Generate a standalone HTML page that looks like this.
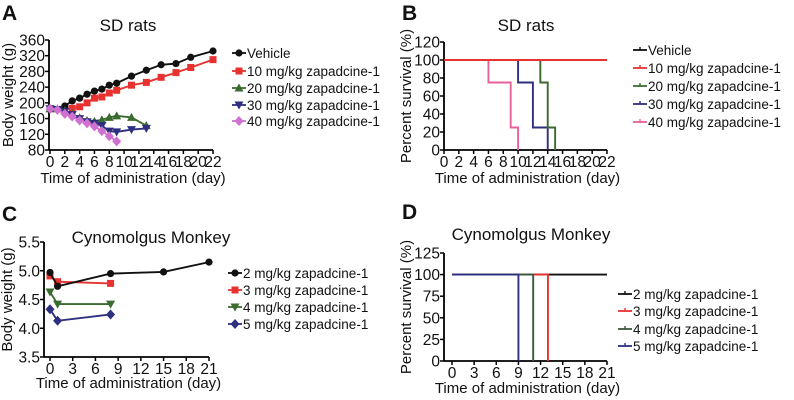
<!DOCTYPE html>
<html><head><meta charset="utf-8"><style>
body{margin:0;background:#fff;}
svg{display:block;font-family:"Liberation Sans",sans-serif;}
</style></head><body>
<svg id="fig" width="794" height="400" viewBox="0 0 794 400"></svg>
<script>
// ---- Panel A data ----
const aSeriesNames=["Vehicle","10 mg/kg zapadcine-1","20 mg/kg zapadcine-1","30 mg/kg zapadcine-1","40 mg/kg zapadcine-1"];
const aVehDays=[0,2,3,4,5,6,7,8,9,11,13,15,17,19,22];
const aVehVals=[185,192,205,212,222,230,235,245,250,268,283,297,300,316,332];
const a10Days=[0,3,4,5,6,7,8,9,11,13,15,17,19,22];
const a10Vals=[185,186,190,200,212,215,225,232,245,252,265,277,290,310];
const a20Days=[0,1,2,3,4,5,6,7,8,9,11,13];
const a20Vals=[185,185,180,172,162,155,153,157,163,167,163,142];
const a30Days=[0,1,2,3,4,5,6,7,8,9,11,13];
const a30Vals=[185,183,178,170,160,152,148,142,128,126,132,135];
const a40Days=[0,1,2,3,4,5,6,7,8,9];
const a40Vals=[185,182,172,165,155,148,140,128,115,102];
const aYTicks=[80,120,160,200,240,280,320,360];
const aXTicks=[0,2,4,6,8,10,12,14,16,18,20,22];
// ---- Panel B data (survival step points) ----
const bVehT=[0,22]; const bVehS=[100,100];
const b10T=[0,22]; const b10S=[100,100];
const b20T=[0,13,14,15]; const b20S=[100,75,25,0];
const b30T=[0,10,12,14]; const b30S=[100,75,25,0];
const b40T=[0,6,9,10]; const b40S=[100,75,25,0];
const bYTicks=[0,20,40,60,80,100,120];
// ---- Panel C data ----
const cNames=["2 mg/kg zapadcine-1","3 mg/kg zapadcine-1","4 mg/kg zapadcine-1","5 mg/kg zapadcine-1"];
const c2Days=[0,1,8,15,21]; const c2Vals=[4.97,4.73,4.95,4.98,5.15];
const c3Days=[0,1,8]; const c3Vals=[4.91,4.81,4.78];
const c4Days=[0,1,8]; const c4Vals=[4.63,4.42,4.42];
const c5Days=[0,1,8]; const c5Vals=[4.33,4.13,4.24];
const cYTicks=[3.5,4.0,4.5,5.0,5.5];
const cYLabels=["3.5","4.0","4.5","5.0","5.5"];
const cXTicks=[0,3,6,9,12,15,18,21];
// ---- Panel D data ----
const d2T=[0,21]; const d2S=[100,100];
const d3T=[0,13]; const d3S=[100,0];
const d4T=[0,11]; const d4S=[100,0];
const d5T=[0,9]; const d5S=[100,0];
const dYTicks=[0,25,50,75,100,125];

const NS="http://www.w3.org/2000/svg";
const svg=document.getElementById('fig');
function mk(tag,attrs,parent){const e=document.createElementNS(NS,tag);for(const k in attrs)e.setAttribute(k,attrs[k]);(parent||svg).appendChild(e);return e;}
function txt(s,x,y,size,anchor,parent,extra){const t=mk('text',Object.assign({x:x,y:y,'font-size':size,'text-anchor':anchor||'start',fill:'#111'},extra||{}),parent);t.textContent=s;return t;}
function lin(a,b,c,d){return function(v){return c+(v-a)*(d-c)/(b-a);};}

function axes(g,sx,sy,x0,x1,y0,y1,xt,yt,ylabels,ytitle,xtitle,ax,axisBottom,xtitleY,ytitleX){
  mk('line',{x1:ax,y1:sy(y1),x2:ax,y2:axisBottom,stroke:'#000','stroke-width':1.8},g);
  mk('line',{x1:ax,y1:axisBottom,x2:sx(x1),y2:axisBottom,stroke:'#000','stroke-width':1.8},g);
  yt.forEach((v,i)=>{mk('line',{x1:ax-4,y1:sy(v),x2:ax,y2:sy(v),stroke:'#000','stroke-width':1.5},g);
    const t=txt(ylabels?ylabels[i]:String(v),ax-4,sy(v)+5.5,15.5,'end',g);});
  xt.forEach(v=>{mk('line',{x1:sx(v),y1:axisBottom,x2:sx(v),y2:axisBottom+4,stroke:'#000','stroke-width':1.5},g);
    const t=txt(String(v),sx(v),axisBottom+17,15.5,'middle',g);});
  const xt2=txt(xtitle,(ax+sx(x1))/2+2,xtitleY,15,'middle',g);
  const yy=(sy(y1)+axisBottom)/2;
  const yt2=txt(ytitle,ytitleX,yy,15,'middle',g,{transform:'rotate(-90 '+ytitleX+' '+yy+')'});
}
function marker(g,shape,x,y,col){
  let e;
  if(shape==='circle')e=mk('circle',{cx:x,cy:y,r:3.6,fill:col},g);
  else if(shape==='square')e=mk('rect',{x:x-3.5,y:y-3.5,width:7,height:7,fill:col},g);
  else if(shape==='up')e=mk('polygon',{points:`${x},${y-4.5} ${x-4.5},${y+3.5} ${x+4.5},${y+3.5}`,fill:col},g);
  else if(shape==='down')e=mk('polygon',{points:`${x},${y+4.5} ${x-4.5},${y-3.5} ${x+4.5},${y-3.5}`,fill:col},g);
  else e=mk('polygon',{points:`${x},${y-5} ${x+4.5},${y} ${x},${y+5} ${x-4.5},${y}`,fill:col},g);
  
}
function lineSeries(g,sx,sy,xs,ys,col,shape,name){
  const sg=mk('g',{},g);
  mk('polyline',{points:xs.map((d,i)=>sx(d)+','+sy(ys[i])).join(' '),fill:'none',stroke:col,'stroke-width':1.9},sg);
  xs.forEach((d,i)=>marker(sg,shape,sx(d),sy(ys[i]),col));
}
function stepSeries(g,sx,sy,ts,ss,col,name){
  const sg=mk('g',{},g);
  let pts=[];
  for(let i=0;i<ts.length;i++){
    if(i>0)pts.push(sx(ts[i])+','+sy(ss[i-1]));
    pts.push(sx(ts[i])+','+sy(ss[i]));
  }
  mk('polyline',{points:pts.join(' '),fill:'none',stroke:col,'stroke-width':1.9},sg);
}
function legend(g,x,ys,names,cols,shapes){
  names.forEach((n,i)=>{
    const lg=mk('g',{},g);
    mk('line',{x1:x,y1:ys[i],x2:x+14,y2:ys[i],stroke:cols[i],'stroke-width':1.8},lg);
    if(shapes)marker(lg,shapes[i],x+7,ys[i],cols[i]);
    else mk('line',{x1:x+7,y1:ys[i]-3,x2:x+7,y2:ys[i],stroke:cols[i],'stroke-width':1.4},lg);
    txt(n,x+15,ys[i]+5,13.5,'start',lg);
  });
}
const cols5=['#111','#e8322f','#3b6b2f','#2e2f7f','#e070c0'];

// Panel A
{const g=mk('g',{});
 txt('A',2,20,21,'start',g,{'font-weight':'bold'});
 txt('SD rats',128,31,17,'middle',g);
 const sx=lin(0,22,50,213), sy=lin(80,360,150,40);
 axes(g,sx,sy,0,22,80,360,aXTicks,aYTicks,null,'Body weight (g)','Time of administration (day)',49,150,183,13);
 lineSeries(g,sx,sy,a10Days,a10Vals,cols5[1],'square','series-10mg');
 lineSeries(g,sx,sy,aVehDays,aVehVals,cols5[0],'circle','series-vehicle');
 lineSeries(g,sx,sy,a20Days,a20Vals,cols5[2],'up','series-20mg');
 lineSeries(g,sx,sy,a30Days,a30Vals,cols5[3],'down','series-30mg');
 lineSeries(g,sx,sy,a40Days,a40Vals,'#d070d0','diamond','series-40mg');
 legend(g,232,[53,71,88,105,121],aSeriesNames,[cols5[0],cols5[1],cols5[2],cols5[3],'#d070d0'],['circle','square','up','down','diamond']);
}
// Panel B
{const g=mk('g',{});
 txt('B',402,20,21,'start',g,{'font-weight':'bold'});
 txt('SD rats',526,31,17,'middle',g);
 const sx=lin(0,22,444,607), sy=lin(0,120,150,42);
 axes(g,sx,sy,0,22,0,120,aXTicks,bYTicks,null,'Percent survival (%)','Time of administration (day)',444,150,183,411);
 stepSeries(g,sx,sy,bVehT,bVehS,cols5[0],'series-vehicle');
 stepSeries(g,sx,sy,b40T,b40S,'#e8609a','series-40mg');
 stepSeries(g,sx,sy,b30T,b30S,cols5[3],'series-30mg');
 stepSeries(g,sx,sy,b20T,b20S,cols5[2],'series-20mg');
 stepSeries(g,sx,sy,b10T,b10S,cols5[1],'series-10mg');
 legend(g,633,[50,68,86,104,122],aSeriesNames,[cols5[0],cols5[1],cols5[2],cols5[3],'#e8609a'],null);
}
// Panel C
{const g=mk('g',{});
 txt('C',2,221,21,'start',g,{'font-weight':'bold'});
 txt('Cynomolgus Monkey',151,243,17,'middle',g);
 const sx=lin(0,21,50,209), sy=lin(3.5,5.5,357,242);
 axes(g,sx,sy,0,21,3.5,5.5,cXTicks,cYTicks,cYLabels,'Body weight (g)','Time of administration (day)',44,357,388,12);
 lineSeries(g,sx,sy,c3Days,c3Vals,cols5[1],'square','series-3mg');
 lineSeries(g,sx,sy,c2Days,c2Vals,cols5[0],'circle','series-2mg');
 lineSeries(g,sx,sy,c4Days,c4Vals,'#3b6b2f','down','series-4mg');
 lineSeries(g,sx,sy,c5Days,c5Vals,cols5[3],'diamond','series-5mg');
 legend(g,228,[273,290,307,324],cNames,[cols5[0],cols5[1],'#3b6b2f',cols5[3]],['circle','square','down','diamond']);
}
// Panel D
{const g=mk('g',{});
 txt('D',402,219,21,'start',g,{'font-weight':'bold'});
 txt('Cynomolgus Monkey',531,240,17,'middle',g);
 const sx=lin(0,21,452,607), sy=lin(0,125,361,253);
 axes(g,sx,sy,0,21,0,125,cXTicks,dYTicks,null,'Percent survival (%)','Time of administration (day)',444,361,393,411);
 stepSeries(g,sx,sy,d2T,d2S,cols5[0],'series-2mg');
 stepSeries(g,sx,sy,d3T,d3S,cols5[1],'series-3mg');
 stepSeries(g,sx,sy,d4T,d4S,'#3b5a3b','series-4mg');
 stepSeries(g,sx,sy,d5T,d5S,cols5[3],'series-5mg');
 legend(g,618,[294,311,329,346],cNames,[cols5[0],cols5[1],'#3b5a3b',cols5[3]],null);
}
</script>
</body></html>
